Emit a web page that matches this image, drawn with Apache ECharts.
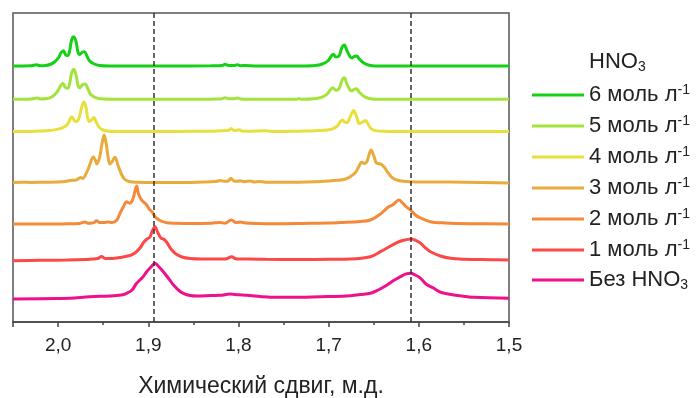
<!DOCTYPE html>
<html>
<head>
<meta charset="utf-8">
<script src="https://cdn.jsdelivr.net/npm/echarts@6/dist/echarts.min.js"></script>
<style>html,body{margin:0;padding:0;background:#fff;}#chart{width:697px;height:398px;}</style>
</head>
<body>
<div id="chart"></div>
<script>
// Series names (legend order: top to bottom)
const seriesNames = ['6 моль л-1', '5 моль л-1', '4 моль л-1', '3 моль л-1', '2 моль л-1', '1 моль л-1', 'Без HNO3'];
const seriesColors = ['#16d016', '#a2e43c', '#e9df3c', '#e8ab3c', '#f5893a', '#fd4848', '#ee118a'];
// vertical stacking offsets of each spectrum (same order as names)
const stackOffsets = [256, 222.7, 190.4, 139.5, 98, 62, 23];
const xTickLabels = ['1,5', '1,6', '1,7', '1,8', '1,9', '2,0'];
const dashedLines = [1.894, 1.609];

// [chemical shift (ppm), intensity]
const s6 = [[2.050,0],[2.030,0.2],[2.024,1.2],[2.020,0.3],[2.014,0.5],[2.009,1.5],[2.004,4],[1.999,9],[1.997,13],[1.994,15.3],[1.9915,11],[1.989,10.5],[1.987,16],[1.985,26],[1.9826,29.3],[1.980,24],[1.978,14],[1.976,11.5],[1.973,14],[1.9707,14.3],[1.968,10],[1.965,5],[1.960,2],[1.954,0.5],[1.943,0],[1.880,0],[1.830,0.2],[1.818,0.5],[1.815,1.7],[1.811,0.5],[1.805,0.4],[1.801,1.3],[1.798,0.3],[1.793,0.5],[1.780,0],[1.731,0],[1.715,0.5],[1.707,2],[1.701,5],[1.697,10],[1.6948,11.7],[1.692,9],[1.6885,10],[1.6855,18],[1.6826,21],[1.680,16],[1.676,9],[1.674,8],[1.672,9.5],[1.669,10],[1.666,7],[1.661,3],[1.656,1],[1.648,0],[1.500,0]];
const s5 = [[2.050,0],[2.030,0.3],[2.023,1.3],[2.019,0.3],[2.012,0.8],[2.008,2],[2.004,4.5],[2.000,9],[1.997,14],[1.9948,16],[1.992,12],[1.989,11],[1.987,17],[1.985,26],[1.9826,30],[1.980,24],[1.978,14],[1.976,11.5],[1.973,14.5],[1.9699,15.3],[1.967,10.5],[1.964,5],[1.959,2],[1.953,0.5],[1.940,0],[1.850,0],[1.825,0.3],[1.818,0.6],[1.815,1.6],[1.811,0.6],[1.806,0.5],[1.801,1.2],[1.797,0.3],[1.780,0],[1.735,0],[1.733,0.8],[1.730,0],[1.716,0.5],[1.708,2],[1.702,5],[1.698,9.5],[1.6955,11.6],[1.692,9],[1.6885,10.5],[1.6855,18.5],[1.6826,21.6],[1.680,16],[1.676,9],[1.674,8.5],[1.672,10],[1.6692,10.6],[1.666,7],[1.661,3],[1.656,1],[1.648,0],[1.500,0]];
const s4 = [[2.050,0],[2.030,0.2],[2.020,0.5],[2.010,1],[2.000,2.5],[1.996,3.5],[1.991,6],[1.988,9.5],[1.9865,13],[1.9848,14.8],[1.982,11],[1.980,10],[1.977,13],[1.9745,22],[1.9714,29.8],[1.969,24],[1.967,13],[1.965,10],[1.9625,12],[1.9603,14.2],[1.958,10],[1.955,5],[1.951,2],[1.946,0.5],[1.935,0],[1.900,0],[1.870,0.2],[1.830,0.3],[1.820,0.8],[1.8115,1],[1.808,3.2],[1.805,1],[1.799,1.8],[1.796,0.5],[1.790,0.3],[1.770,0.8],[1.760,0],[1.740,0.3],[1.725,0.5],[1.712,1],[1.702,1.5],[1.695,3],[1.690,6],[1.687,10],[1.6844,11.7],[1.6815,9],[1.679,9.3],[1.676,15],[1.6722,21],[1.669,15],[1.666,8],[1.6625,9.5],[1.6592,11],[1.656,7],[1.653,3],[1.648,1],[1.640,0.3],[1.600,0],[1.500,0]];
const s3 = [[2.050,0],[2.040,0.3],[2.030,0],[2.015,0.3],[2.000,0.5],[1.992,1],[1.987,2],[1.980,2.5],[1.975,5],[1.9725,4],[1.9703,6.5],[1.9656,15.8],[1.9629,23],[1.961,25.8],[1.9585,22],[1.957,18.5],[1.954,25],[1.9515,38],[1.9489,47.5],[1.9465,38],[1.9445,25],[1.9426,18.5],[1.940,21],[1.937,25.2],[1.9333,16.5],[1.9296,8],[1.9259,3],[1.921,1],[1.912,0.3],[1.895,0],[1.870,0],[1.840,0.5],[1.825,1],[1.820,2],[1.816,1.2],[1.8115,1.5],[1.8084,4.2],[1.805,1.5],[1.801,1.2],[1.798,1.8],[1.794,0.8],[1.787,1.5],[1.782,0.6],[1.778,1],[1.770,0.3],[1.740,0.3],[1.715,0.8],[1.700,1.5],[1.690,2.2],[1.6833,3],[1.6785,4.5],[1.676,5.8],[1.6703,10],[1.667,15],[1.6633,20.2],[1.660,19],[1.6575,21],[1.6555,27],[1.6529,32.5],[1.650,27],[1.6475,20],[1.6455,19],[1.6418,18.2],[1.638,15],[1.6352,11],[1.6296,5],[1.6226,2],[1.610,0.8],[1.580,0.5],[1.550,0.3],[1.500,-0.5]];
const s2 = [[2.050,0],[2.000,0],[1.985,0.3],[1.976,0.5],[1.9703,2],[1.967,0.8],[1.9626,1],[1.960,1.5],[1.9573,3.3],[1.9537,1.5],[1.949,1.5],[1.9448,2],[1.940,1.5],[1.9348,4],[1.9314,10.7],[1.9277,17],[1.924,22.3],[1.9215,21],[1.9203,20.7],[1.918,23],[1.916,28],[1.9129,38],[1.9108,30],[1.9074,24],[1.9018,19],[1.899,15],[1.8959,12.3],[1.893,8],[1.8907,5.7],[1.886,3],[1.8796,1.3],[1.870,0.8],[1.850,0.5],[1.830,0.8],[1.820,1.5],[1.815,0.8],[1.8081,4],[1.8026,1.5],[1.798,2],[1.792,1],[1.780,0.5],[1.760,0.3],[1.720,0.8],[1.700,1],[1.687,1.5],[1.6648,2.5],[1.6537,4],[1.6426,10],[1.637,14.5],[1.6333,17.3],[1.6292,19],[1.626,21.5],[1.6222,24],[1.618,21],[1.6137,17],[1.6092,14],[1.6037,9],[1.598,6],[1.587,2.3],[1.5703,1],[1.543,0.3],[1.500,0]];
const s1 = [[2.050,-0.7],[2.020,-0.3],[1.990,0],[1.970,0.5],[1.9626,1],[1.956,1.5],[1.9518,3.5],[1.948,1.5],[1.940,1.5],[1.9314,2.5],[1.9203,4.5],[1.9148,7],[1.9092,12],[1.9048,18],[1.9014,21],[1.8981,23],[1.896,28],[1.8926,33.3],[1.8892,27],[1.886,22],[1.8826,20.7],[1.879,17],[1.8748,11],[1.8692,6],[1.8626,3],[1.8537,1.5],[1.840,1],[1.8148,1],[1.8074,3.3],[1.803,1.2],[1.798,1],[1.787,1],[1.770,0.7],[1.731,0.5],[1.700,0.7],[1.676,1],[1.6537,3.3],[1.6426,8.3],[1.6333,13],[1.6259,16.7],[1.618,19.5],[1.6084,21],[1.598,16.7],[1.5926,12],[1.587,8.3],[1.576,4],[1.5648,1.7],[1.550,0.8],[1.520,0.3],[1.500,0]];
const s0 = [[2.050,0],[2.000,0.5],[1.987,0.7],[1.9648,2.3],[1.9426,3],[1.930,4],[1.924,5.7],[1.918,9],[1.9129,15.7],[1.906,22],[1.9018,27.3],[1.897,32],[1.8926,35.7],[1.888,32],[1.8833,27.3],[1.877,20],[1.872,14],[1.866,8.5],[1.8611,5.7],[1.8537,3.5],[1.8463,3],[1.830,3.5],[1.8203,3.7],[1.8092,5],[1.800,4.2],[1.7907,3.7],[1.7759,2.5],[1.7647,1.7],[1.7389,1.7],[1.7092,2.3],[1.680,3],[1.6648,4.5],[1.6537,5.7],[1.645,9],[1.6352,14],[1.628,18.5],[1.6203,22.3],[1.6148,24.8],[1.6092,25.7],[1.604,24],[1.598,20.7],[1.592,15],[1.5833,10.7],[1.575,6.5],[1.5611,4],[1.548,2.5],[1.5389,1.7],[1.500,0.7]];
const spectra = [s6, s5, s4, s3, s2, s1, s0];

const FONT = 'Liberation Sans, Arial, sans-serif';
const chart = echarts.init(document.getElementById('chart'), null, {renderer: 'canvas'});

function legendLabel(name) {
  if (name.endsWith('-1')) return '{a|' + name.slice(0, -2) + '}{sup|-1}';
  if (name.endsWith('HNO3')) return '{a|' + name.slice(0, -1) + '}{sub|3}';
  return '{a|' + name + '}';
}

const series = spectra.map((arr, i) => ({
  type: 'line',
  name: seriesNames[i],
  data: arr.map(p => [p[0], p[1] + stackOffsets[i]]),
  symbol: 'none',
  showSymbol: false,
  smooth: 0.35,
  lineStyle: {width: 3, color: seriesColors[i]},
  itemStyle: {color: seriesColors[i]},
  xAxisIndex: 0,
  yAxisIndex: 0,
  animation: false
}));
series[series.length - 1].markLine = {
  silent: true,
  precision: 4,
  symbol: ['none', 'none'],
  label: {show: false},
  lineStyle: {type: [5, 3], color: '#333', width: 1.5},
  data: dashedLines.map(v => ({xAxis: v}))
};

const richText = {
  a: {fontSize: 22, lineHeight: 24, fontFamily: FONT, color: '#222', fontWeight: 'normal'},
  sup: {fontSize: 14, lineHeight: 12, verticalAlign: 'top', fontFamily: FONT, color: '#222', fontWeight: 'normal'},
  sub: {fontSize: 14, lineHeight: 12, verticalAlign: 'bottom', fontFamily: FONT, color: '#222', fontWeight: 'normal'}
};

chart.setOption({
  backgroundColor: '#fff',
  animation: false,
  title: {
    text: '{a|HNO}{sub|3}',
    left: 589, top: 50, padding: 0,
    textStyle: {fontWeight: 'normal', rich: richText}
  },
  legend: {
    orient: 'vertical',
    left: 532, top: 83, padding: 0,
    itemWidth: 52, itemHeight: 3, itemGap: 8,
    icon: 'rect',
    data: seriesNames,
    formatter: legendLabel,
    textStyle: {fontFamily: FONT, fontSize: 22, color: '#222', rich: richText}
  },
  grid: {left: 13, right: 188, top: 13, bottom: 76, show: true, borderColor: '#555', borderWidth: 1.5, containLabel: false, outerBoundsMode: 'none'},
  xAxis: [{
    type: 'value', min: 1.5, max: 2.05, interval: 0.1, inverse: true,
    position: 'bottom',
    axisLine: {show: true, lineStyle: {color: '#444', width: 1.5}},
    axisTick: {show: true, length: 5, lineStyle: {color: '#444', width: 1.5}},
    axisLabel: {
      margin: 14, fontSize: 19, fontFamily: FONT, color: '#222',
      formatter: v => {
        const k = Math.round((v - 1.5) * 10);
        if (Math.abs(v - (1.5 + k * 0.1)) > 1e-6) return '';
        return xTickLabels[k] || '';
      }
    },
    splitLine: {show: false},
    name: 'Химический сдвиг, м.д.',
    nameLocation: 'middle', nameGap: 53,
    nameTextStyle: {fontSize: 23, fontFamily: FONT, color: '#222'}
  }, {
    type: 'value', min: 1.5, max: 2.05, interval: 0.05, inverse: true,
    position: 'bottom',
    axisLine: {show: false},
    axisTick: {show: true, length: 3, lineStyle: {color: '#444', width: 1.5}},
    axisLabel: {show: false},
    splitLine: {show: false}
  }],
  yAxis: {type: 'value', min: 0, max: 309, show: false},
  series: series
});
</script>
</body>
</html>
